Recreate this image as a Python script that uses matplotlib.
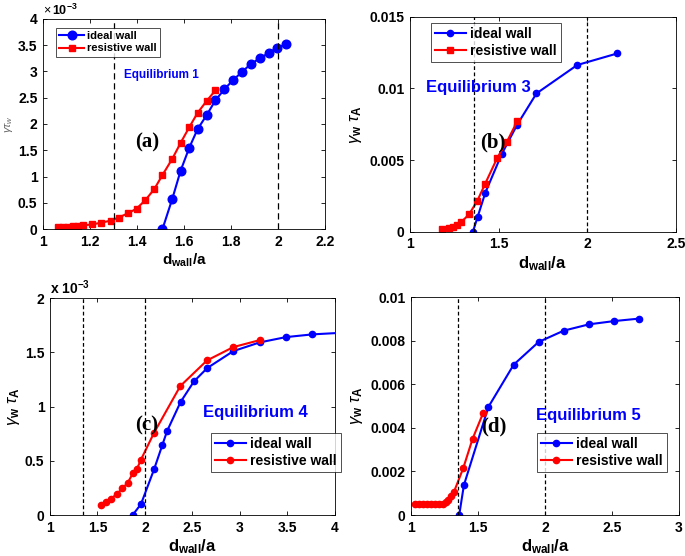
import matplotlib
matplotlib.use("Agg")
import matplotlib.pyplot as plt
import numpy as np

plt.rcParams['font.family'] = ['Liberation Sans', 'DejaVu Sans']
plt.rcParams['mathtext.fontset'] = 'custom'
plt.rcParams['mathtext.rm'] = 'Liberation Sans'
plt.rcParams['mathtext.bf'] = 'Liberation Sans:bold'
plt.rcParams['mathtext.it'] = 'Liberation Sans:italic'

# ---------------- Data ----------------
# Panel (a): Equilibrium 1 (values in units of 1e-3)
a_ideal_x = [1.508, 1.550, 1.585, 1.622, 1.657, 1.696, 1.733, 1.771, 1.809, 1.846, 1.883, 1.922, 1.959, 1.995, 2.034]
a_ideal_y = [0.0, 0.58, 1.11, 1.55, 1.90, 2.17, 2.45, 2.66, 2.84, 2.99, 3.14, 3.25, 3.35, 3.45, 3.52]
a_res_x = [1.064, 1.085, 1.107, 1.128, 1.149, 1.170, 1.210, 1.246, 1.287, 1.322, 1.361, 1.398, 1.435, 1.473,
           1.508, 1.550, 1.585, 1.622, 1.657, 1.696, 1.733]
a_res_y = [0.03, 0.035, 0.04, 0.05, 0.06, 0.07, 0.09, 0.12, 0.16, 0.22, 0.30, 0.39, 0.55, 0.76,
           1.03, 1.34, 1.64, 1.94, 2.21, 2.44, 2.64]

# Panel (b): Equilibrium 3
b_ideal_x = [1.355, 1.382, 1.425, 1.517, 1.605, 1.714, 1.944, 2.171]
b_ideal_y = [0.0, 0.00105, 0.00272, 0.00540, 0.00747, 0.00965, 0.01163, 0.01244]
b_res_x = [1.179, 1.220, 1.244, 1.265, 1.288, 1.333, 1.380, 1.425, 1.492, 1.547, 1.605]
b_res_y = [0.00019, 0.00028, 0.00037, 0.00049, 0.00067, 0.00121, 0.00216, 0.00337, 0.00514, 0.00628, 0.00770]

# Panel (c): Equilibrium 4 (values in units of 1e-3)
c_ideal_x = [1.87, 1.958, 2.095, 2.182, 2.232, 2.375, 2.516, 2.656, 2.930, 3.207, 3.484, 3.761, 4.05]
c_ideal_y = [0.0, 0.101, 0.42, 0.644, 0.773, 1.043, 1.233, 1.356, 1.512, 1.592, 1.641, 1.666, 1.68]
c_res_x = [1.537, 1.589, 1.642, 1.702, 1.761, 1.818, 1.871, 1.913, 1.955, 2.095, 2.372, 2.653, 2.930, 3.207]
c_res_y = [0.092, 0.123, 0.150, 0.193, 0.245, 0.297, 0.383, 0.420, 0.506, 0.758, 1.190, 1.426, 1.549, 1.613]

# Panel (d): Equilibrium 5
d_ideal_x = [1.360, 1.395, 1.578, 1.767, 1.953, 2.141, 2.330, 2.519, 2.700]
d_ideal_y = [0.0, 0.00137, 0.00496, 0.00690, 0.00794, 0.00846, 0.00875, 0.00890, 0.00901]
d_res_x = [1.03, 1.06, 1.09, 1.12, 1.15, 1.18, 1.21, 1.24, 1.26, 1.28, 1.30, 1.32, 1.39, 1.46, 1.54]
d_res_y = [0.0005, 0.0005, 0.0005, 0.0005, 0.0005, 0.0005, 0.0005, 0.00052, 0.0006, 0.0007, 0.00085,
           0.00105, 0.00215, 0.0035, 0.0047]

BLUE = '#0000ff'
RED = '#ff0000'

fig = plt.figure(figsize=(6.85, 5.56), dpi=100)

def style(ax):
    ax.tick_params(direction='in', top=True, right=True, length=3, width=0.6,
                   labelsize=10, pad=4)
    for lab in ax.get_xticklabels() + ax.get_yticklabels():
        lab.set_fontweight('bold')
    for s in ax.spines.values():
        s.set_linewidth(0.6)

def legend(ax, anchor, size):
    lg = ax.legend(loc='upper left', bbox_to_anchor=anchor, prop={'weight': 'bold', 'size': size},
                   frameon=True, fancybox=False, edgecolor='k', borderpad=0.3, labelspacing=0.2,
                   handlelength=2.2, handletextpad=0.3, borderaxespad=0)
    lg.get_frame().set_linewidth(0.6)
    return lg

xlabel = r'd$_{\mathbf{wall}}$/a'
ylabel = r'$\gamma_{\mathbf{w}}\ \tau_{\mathbf{A}}$'

# ---------------- (a) ----------------
ax = fig.add_axes([0.0628, 0.588, 0.412, 0.378])
ax.plot(a_ideal_x, a_ideal_y, '-o', color=BLUE, lw=1.5, ms=6.2, label='ideal wall')
ax.plot(a_res_x, a_res_y, '-s', color=RED, lw=1.5, ms=5, label='resistive wall')
ax.axvline(1.3, color='k', ls='--', lw=0.9, dashes=(5, 3))
ax.axvline(2.0, color='k', ls='--', lw=0.9, dashes=(5, 3))
ax.set_xlim(1, 2.2)
ax.set_ylim(0, 4)
ax.set_xticks(np.arange(1, 2.21, 0.2))
ax.set_xticklabels(['1', '1.2', '1.4', '1.6', '1.8', '2', '2.2'])
ax.set_yticks(np.arange(0, 4.01, 0.5))
ax.set_yticklabels(['0', '0.5', '1', '1.5', '2', '2.5', '3', '3.5', '4'])
style(ax)
ax.text(0.0, 1.005, r'$\times\,\mathbf{10^{-3}}$', transform=ax.transAxes, fontsize=9, ha='left', va='bottom')
ax.set_xlabel(xlabel, fontsize=11, fontweight='bold', labelpad=2)
ax.set_ylabel(r'$\gamma\tau_{w}$', fontsize=8, color='#666666', labelpad=2)
ax.text(1.344, 2.93, 'Equilibrium 1', color=BLUE, fontsize=8.5, fontweight='bold', va='center')
ax.text(1.393, 1.64, '(a)', family='Liberation Serif', fontsize=15, fontweight='bold', va='center')
legend(ax, (0.046, 0.957), 8)

# ---------------- (b) ----------------
ax = fig.add_axes([0.5985, 0.583, 0.388, 0.387])
ax.plot(b_ideal_x, b_ideal_y, '-o', color=BLUE, lw=1.5, ms=4.5, label='ideal wall')
ax.plot(b_res_x, b_res_y, '-s', color=RED, lw=1.5, ms=4.5, label='resistive wall')
ax.axvline(1.36, color='k', ls='--', lw=0.9, dashes=(3, 2))
ax.axvline(2.0, color='k', ls='--', lw=0.9, dashes=(3, 2))
ax.set_xlim(1, 2.5)
ax.set_ylim(0, 0.015)
ax.set_xticks([1, 1.5, 2, 2.5])
ax.set_xticklabels(['1', '1.5', '2', '2.5'])
ax.set_yticks([0, 0.005, 0.01, 0.015])
ax.set_yticklabels(['0', '0.005', '0.01', '0.015'])
style(ax)
ax.set_xlabel(xlabel, fontsize=12, fontweight='bold', labelpad=2)
ax.set_ylabel(ylabel, fontsize=12, labelpad=4)
ax.text(1.09, 0.01005, 'Equilibrium 3', color=BLUE, fontsize=12, fontweight='bold', va='center')
ax.text(1.395, 0.0062, '(b)', family='Liberation Serif', fontsize=15, fontweight='bold', va='center')
legend(ax, (0.079, 0.972), 10)

# ---------------- (c) ----------------
ax = fig.add_axes([0.073, 0.0737, 0.416, 0.390])
ax.plot(c_ideal_x, c_ideal_y, '-o', color=BLUE, lw=1.5, ms=4.5, label='ideal wall')
ax.plot(c_res_x, c_res_y, '-o', color=RED, lw=1.5, ms=4.5, label='resistive wall')
ax.axvline(1.35, color='k', ls='--', lw=0.9, dashes=(3, 2))
ax.axvline(2.0, color='k', ls='--', lw=0.9, dashes=(3, 2))
ax.set_xlim(1, 4)
ax.set_ylim(0, 2)
ax.set_xticks(np.arange(1, 4.01, 0.5))
ax.set_xticklabels(['1', '1.5', '2', '2.5', '3', '3.5', '4'])
ax.set_yticks([0, 0.5, 1, 1.5, 2])
ax.set_yticklabels(['0', '0.5', '1', '1.5', '2'])
style(ax)
ax.text(0.0, 1.005, r'$\mathbf{x\ 10^{-3}}$', transform=ax.transAxes, fontsize=10, ha='left', va='bottom')
ax.set_xlabel(xlabel, fontsize=12, fontweight='bold', labelpad=2)
ax.set_ylabel(ylabel, fontsize=12, labelpad=2)
ax.text(2.61, 0.95, 'Equilibrium 4', color=BLUE, fontsize=12, fontweight='bold', va='center')
ax.text(1.9, 0.83, '(c)', family='Liberation Serif', fontsize=15, fontweight='bold', va='center')
legend(ax, (0.565, 0.378), 10)

# ---------------- (d) ----------------
ax = fig.add_axes([0.600, 0.0737, 0.391, 0.392])
ax.plot(d_ideal_x, d_ideal_y, '-o', color=BLUE, lw=1.5, ms=4.5, label='ideal wall')
ax.plot(d_res_x, d_res_y, '-o', color=RED, lw=1.5, ms=4.5, label='resistive wall')
ax.axvline(1.35, color='k', ls='--', lw=0.9, dashes=(3, 2))
ax.axvline(2.0, color='k', ls='--', lw=0.9, dashes=(3, 2))
ax.set_xlim(1, 3)
ax.set_ylim(0, 0.01)
ax.set_xticks([1, 1.5, 2, 2.5, 3])
ax.set_xticklabels(['1', '1.5', '2', '2.5', '3'])
ax.set_yticks([0, 0.002, 0.004, 0.006, 0.008, 0.01])
ax.set_yticklabels(['0', '0.002', '0.004', '0.006', '0.008', '0.01'])
style(ax)
ax.set_xlabel(xlabel, fontsize=12, fontweight='bold', labelpad=2)
ax.set_ylabel(ylabel, fontsize=12, labelpad=4)
ax.text(1.936, 0.00458, 'Equilibrium 5', color=BLUE, fontsize=12, fontweight='bold', va='center')
ax.text(1.525, 0.00408, '(d)', family='Liberation Serif', fontsize=15, fontweight='bold', va='center')
legend(ax, (0.47, 0.376), 10)

fig.savefig('out.png', dpi=100)
